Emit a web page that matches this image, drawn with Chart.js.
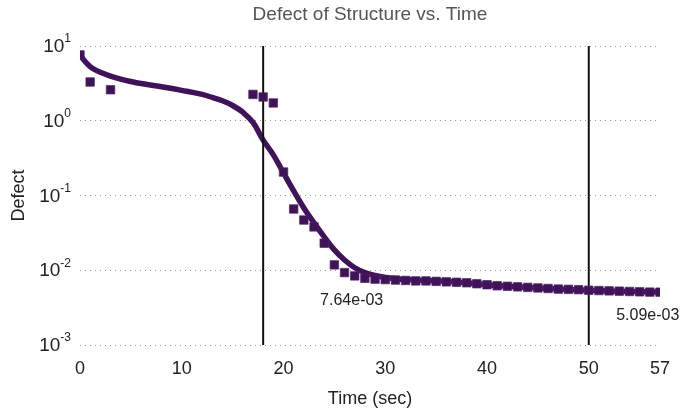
<!DOCTYPE html>
<html>
<head>
<meta charset="utf-8">
<script src="https://cdn.jsdelivr.net/npm/chart.js@4/dist/chart.umd.min.js"></script>
<style>
  body { margin: 0; background: #fff; }
  #chart { display: block; }
</style>
</head>
<body>
<canvas id="chart" width="683" height="410"></canvas>
<script>
// ── DATA ──────────────────────────────────
const sampleTimes = [0, 1, 3, 17, 18, 19, 20, 21, 22, 23, 24, 25, 26, 27, 28, 29, 30,
  31, 32, 33, 34, 35, 36, 37, 38, 39, 40, 41, 42, 43, 44, 45, 46, 47, 48, 49, 50,
  51, 52, 53, 54, 55, 56, 57];
const sampleDefect = [7.6, 3.3, 2.6, 2.25, 2.08, 1.73, 0.206, 0.066, 0.047, 0.038, 0.023, 0.0118,
  0.0093, 0.0084, 0.0078, 0.0076, 0.0075, 0.0074, 0.0073, 0.0072, 0.0072, 0.0071, 0.0070,
  0.0069, 0.0068, 0.0066, 0.0064, 0.0062, 0.0061, 0.0060, 0.0059, 0.0058, 0.0057, 0.0056,
  0.00555, 0.0055, 0.0054, 0.00535, 0.0053, 0.00525, 0.0052, 0.00515, 0.0051, 0.00509];

const fitTimes = [0, 0.5, 1, 1.5, 2, 3, 4, 5, 6, 8, 10, 12, 13, 14, 15, 16, 17, 18, 19, 20,
  21, 22, 23, 24, 25, 26, 27, 28, 29, 30, 31, 32, 34, 36, 38, 40, 43, 46, 50, 54, 57];
const fitDefect = [7.6, 6.2, 5.3, 4.8, 4.45, 3.95, 3.6, 3.35, 3.15, 2.85, 2.55, 2.25, 2.05,
  1.85, 1.6, 1.3, 0.95, 0.55, 0.35, 0.2, 0.115, 0.068, 0.043, 0.028, 0.0187, 0.0137, 0.0108,
  0.0093, 0.0085, 0.0080, 0.0077, 0.0075, 0.0073, 0.0071, 0.0068, 0.0064, 0.0060, 0.0057,
  0.0054, 0.0052, 0.0051];

const markerTimes = [18, 50];
const xTicks = [0, 10, 20, 30, 40, 50, 57];
const yTickExps = [-3, -2, -1, 0, 1];

const noteTexts = ['7.64e-03', '5.09e-03'];
const noteX = [26.7, 55.8];
const noteY = [0.0039, 0.00247];

const TITLE = 'Defect of Structure vs. Time';
const PURPLE = '#40125a';
const FONT = "'Liberation Sans', Arial, sans-serif";

// ── PLUGIN: title, superscript y labels, notes ──
const extras = {
  id: 'extras',
  afterDraw(chart) {
    const ctx = chart.ctx;
    const xs = chart.scales.x, ys = chart.scales.y;
    const area = chart.chartArea;
    ctx.save();

    ctx.fillStyle = '#555';
    ctx.font = '19px ' + FONT;
    ctx.textAlign = 'center';
    ctx.textBaseline = 'middle';
    ctx.fillText(TITLE, (area.left + area.right) / 2, 15);

    ctx.fillStyle = '#222';
    yTickExps.forEach(e => {
      const y = ys.getPixelForValue(Math.pow(10, e));
      const exp = String(e);
      ctx.font = '12px ' + FONT;
      const ew = ctx.measureText(exp).width;
      ctx.textAlign = 'left';
      ctx.textBaseline = 'middle';
      ctx.fillText(exp, 71 - ew, y - 7);
      ctx.font = '19px ' + FONT;
      ctx.textAlign = 'right';
      ctx.fillText('10', 71 - ew, y + 1);
    });

    ctx.font = '16px ' + FONT;
    ctx.textAlign = 'center';
    ctx.textBaseline = 'middle';
    noteTexts.forEach((t, i) => {
      ctx.fillText(t, xs.getPixelForValue(noteX[i]), ys.getPixelForValue(noteY[i]));
    });
    ctx.restore();
  }
};

const markerSets = markerTimes.map(t => ({
  type: 'line',
  data: [{ x: t, y: 1e-3 }, { x: t, y: 10 }],
  borderColor: '#111',
  borderWidth: 2,
  pointRadius: 0,
  showLine: true
}));

new Chart(document.getElementById('chart'), {
  type: 'scatter',
  data: {
    datasets: [
      {
        data: sampleTimes.map((t, i) => ({ x: t, y: sampleDefect[i] })),
        pointStyle: 'rect',
        pointRadius: 6,
        backgroundColor: PURPLE,
        borderColor: 'rgba(80,40,100,0.7)',
        borderWidth: 1
      },
      ...markerSets,
      {
        type: 'line',
        data: fitTimes.map((t, i) => ({ x: t, y: fitDefect[i] })),
        borderColor: PURPLE,
        borderWidth: 5.5,
        pointRadius: 0,
        tension: 0.4,
        showLine: true
      }
    ]
  },
  options: {
    responsive: false,
    animation: false,
    layout: { padding: { left: 0, right: 23, top: 46, bottom: 0 } },
    plugins: {
      legend: { display: false },
      tooltip: { enabled: false },
      title: { display: false }
    },
    scales: {
      x: {
        type: 'linear',
        min: 0,
        max: 57,
        afterBuildTicks: s => { s.ticks = xTicks.map(v => ({ value: v })); },
        afterFit: s => { s.height = 65; },
        grid: { display: false, drawTicks: false },
        border: { display: false },
        ticks: { color: '#222', font: { family: FONT, size: 18 }, padding: 13, maxRotation: 0 },
        title: {
          display: true,
          text: 'Time (sec)',
          color: '#222',
          font: { family: FONT, size: 18 },
          padding: { top: 0, bottom: 0 }
        }
      },
      y: {
        type: 'logarithmic',
        min: 1e-3,
        max: 10,
        afterBuildTicks: s => { s.ticks = yTickExps.map(e => ({ value: Math.pow(10, e) })); },
        afterFit: s => { s.width = 80; },
        grid: { color: '#999', lineWidth: 1, drawTicks: false },
        border: { display: false, dash: [1, 4] },
        ticks: { display: false },
        title: {
          display: true,
          text: 'Defect',
          color: '#222',
          font: { family: FONT, size: 18 },
          padding: { top: 8, bottom: 0 }
        }
      }
    }
  },
  plugins: [extras]
});
</script>
</body>
</html>
